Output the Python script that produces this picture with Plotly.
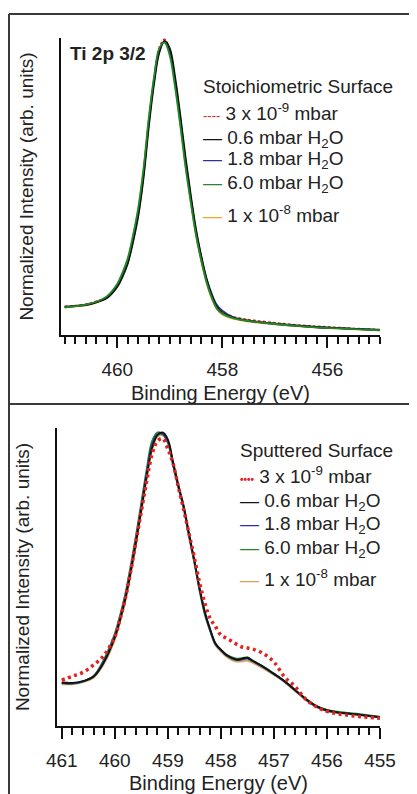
import plotly.graph_objects as go

# ---- data ----
# top panel: stoichiometric surface
energy_stoich = [461.0, 460.8, 460.6, 460.4, 460.2, 460.0, 459.9, 459.8, 459.7, 459.6,
                 459.5, 459.4, 459.3, 459.2, 459.1, 459.0, 458.9, 458.8, 458.7, 458.6,
                 458.5, 458.4, 458.3, 458.2, 458.1, 458.0, 457.8, 457.6, 457.4, 457.0,
                 456.6, 456.2, 455.8, 455.4, 455.0]
stoich_3e9 = [0.096, 0.099, 0.103, 0.113, 0.128, 0.168, 0.204, 0.250, 0.325, 0.418,
              0.548, 0.720, 0.862, 0.968, 0.995, 0.958, 0.855, 0.722, 0.580, 0.455,
              0.343, 0.255, 0.183, 0.130, 0.094, 0.078, 0.062, 0.054, 0.049, 0.041,
              0.034, 0.029, 0.025, 0.021, 0.018]
stoich_06 = [0.095, 0.098, 0.101, 0.110, 0.124, 0.162, 0.196, 0.240, 0.312, 0.400,
             0.528, 0.700, 0.845, 0.950, 0.990, 0.965, 0.870, 0.740, 0.598, 0.470,
             0.355, 0.265, 0.188, 0.132, 0.093, 0.075, 0.059, 0.051, 0.046, 0.038,
             0.032, 0.027, 0.023, 0.020, 0.017]
stoich_18 = [0.094, 0.097, 0.102, 0.111, 0.126, 0.165, 0.200, 0.245, 0.318, 0.408,
             0.538, 0.712, 0.855, 0.958, 0.988, 0.955, 0.858, 0.728, 0.586, 0.462,
             0.350, 0.262, 0.190, 0.138, 0.100, 0.082, 0.060, 0.050, 0.045, 0.037,
             0.031, 0.026, 0.023, 0.020, 0.017]
stoich_60 = [0.093, 0.097, 0.102, 0.112, 0.130, 0.172, 0.210, 0.258, 0.335, 0.428,
             0.560, 0.730, 0.868, 0.965, 0.985, 0.940, 0.835, 0.705, 0.565, 0.445,
             0.335, 0.250, 0.178, 0.125, 0.088, 0.072, 0.057, 0.050, 0.045, 0.037,
             0.031, 0.026, 0.022, 0.019, 0.016]
stoich_1e8 = [0.092, 0.096, 0.100, 0.109, 0.127, 0.170, 0.208, 0.255, 0.330, 0.422,
              0.552, 0.722, 0.860, 0.960, 0.985, 0.948, 0.845, 0.712, 0.570, 0.448,
              0.336, 0.248, 0.175, 0.122, 0.086, 0.069, 0.055, 0.048, 0.043, 0.036,
              0.030, 0.025, 0.022, 0.019, 0.016]

# bottom panel: sputtered surface
energy_sput = [461.0, 460.8, 460.6, 460.4, 460.2, 460.0, 459.9, 459.8, 459.7, 459.6,
               459.5, 459.4, 459.3, 459.2, 459.1, 459.0, 458.9, 458.8, 458.7, 458.6,
               458.5, 458.4, 458.3, 458.2, 458.1, 458.0, 457.9, 457.8, 457.7, 457.6,
               457.5, 457.4, 457.2, 457.0, 456.8, 456.6, 456.4, 456.2, 456.0, 455.8,
               455.6, 455.4, 455.2, 455.0]
sput_3e9 = [0.154, 0.167, 0.180, 0.205, 0.238, 0.300, 0.360, 0.430, 0.520, 0.620,
            0.720, 0.820, 0.910, 0.955, 0.965, 0.930, 0.880, 0.800, 0.725, 0.645,
            0.565, 0.480, 0.410, 0.360, 0.333, 0.305, 0.295, 0.285, 0.274, 0.265,
            0.262, 0.258, 0.243, 0.215, 0.165, 0.132, 0.090, 0.065, 0.049, 0.041,
            0.036, 0.032, 0.029, 0.026]
sput_06 = [0.146, 0.145, 0.151, 0.165, 0.215, 0.296, 0.356, 0.427, 0.517, 0.617,
           0.726, 0.836, 0.930, 0.975, 0.985, 0.962, 0.885, 0.808, 0.738, 0.645,
           0.556, 0.462, 0.382, 0.324, 0.277, 0.256, 0.239, 0.229, 0.223, 0.226,
           0.229, 0.219, 0.199, 0.175, 0.150, 0.121, 0.091, 0.067, 0.053, 0.046,
           0.042, 0.038, 0.034, 0.030]
sput_18 = [0.144, 0.143, 0.150, 0.167, 0.220, 0.303, 0.364, 0.436, 0.526, 0.628,
           0.738, 0.848, 0.942, 0.978, 0.980, 0.956, 0.878, 0.803, 0.733, 0.640,
           0.552, 0.458, 0.378, 0.321, 0.274, 0.254, 0.237, 0.227, 0.221, 0.223,
           0.226, 0.217, 0.197, 0.174, 0.149, 0.119, 0.089, 0.065, 0.051, 0.045,
           0.041, 0.038, 0.033, 0.029]
sput_60 = [0.145, 0.142, 0.149, 0.168, 0.225, 0.310, 0.372, 0.445, 0.538, 0.640,
           0.750, 0.860, 0.955, 0.985, 0.980, 0.950, 0.872, 0.798, 0.728, 0.635,
           0.548, 0.452, 0.372, 0.318, 0.274, 0.256, 0.240, 0.231, 0.226, 0.228,
           0.230, 0.220, 0.200, 0.176, 0.151, 0.121, 0.092, 0.068, 0.054, 0.048,
           0.044, 0.041, 0.036, 0.031]
sput_1e8 = [0.140, 0.140, 0.147, 0.162, 0.210, 0.290, 0.350, 0.420, 0.508, 0.608,
            0.718, 0.828, 0.925, 0.970, 0.975, 0.952, 0.878, 0.802, 0.732, 0.638,
            0.550, 0.455, 0.376, 0.318, 0.270, 0.250, 0.233, 0.222, 0.216, 0.217,
            0.219, 0.212, 0.193, 0.171, 0.147, 0.117, 0.087, 0.063, 0.050, 0.044,
            0.040, 0.036, 0.032, 0.028]

labels = ["3 x 10<sup>-9</sup> mbar", "0.6 mbar H<sub>2</sub>O", "1.8 mbar H<sub>2</sub>O",
          "6.0 mbar H<sub>2</sub>O", "1 x 10<sup>-8</sup> mbar"]

# the page body has an 8px margin, so the figure is a bit smaller than the window
OFF = 8
W, H = 417 - OFF, 794 - OFF
FONT = "Liberation Sans, Arial, sans-serif"
FS = 19
TXT = "#222222"
RED, BLACK, BLUE, GREEN = "#e3221f", "#111111", "#2e3192", "#1f8a2c"
ORANGE_TOP, ORANGE_BOT = "#f2a62a", "#d2a45a"


def px_x(x):
    return (x - OFF) / W


def px_y(y):
    return 1 - (y - OFF) / H


fig = go.Figure()

top = [(stoich_1e8, ORANGE_TOP, "solid", 1.8), (stoich_3e9, RED, "3px,2px", 1.8),
       (stoich_18, BLUE, "solid", 1.8), (stoich_06, BLACK, "solid", 1.8),
       (stoich_60, GREEN, "solid", 1.8)]
for ys, col, dash, w in top:
    fig.add_trace(go.Scatter(x=energy_stoich, y=ys, mode="lines", xaxis="x", yaxis="y",
                             line=dict(color=col, width=w, dash=dash, shape="spline"),
                             showlegend=False))

bot = [(sput_1e8, ORANGE_BOT, "solid", 1.8), (sput_60, GREEN, "solid", 1.8),
       (sput_18, BLUE, "solid", 1.8), (sput_06, BLACK, "solid", 1.8),
       (sput_3e9, RED, "3px,3.5px", 3.5)]
for ys, col, dash, w in bot:
    fig.add_trace(go.Scatter(x=energy_sput, y=ys, mode="lines", xaxis="x2", yaxis="y2",
                             line=dict(color=col, width=w, dash=dash, shape="spline"),
                             showlegend=False))


def xax(domain, rng, tick0, dtick, anchor, standoff):
    return dict(domain=domain, range=rng, anchor=anchor, showline=True, linecolor="#111",
                linewidth=1.5, ticks="outside", ticklen=11, tickwidth=1.5, tickcolor="#111",
                tick0=tick0, dtick=dtick, showgrid=False, zeroline=False,
                ticklabelstandoff=5,
                tickfont=dict(family=FONT, size=FS, color=TXT),
                minor=dict(ticks="outside", ticklen=7, tickwidth=1.5, tickcolor="#111",
                           tick0=455, dtick=0.2, showgrid=False),
                title=dict(text="Binding Energy (eV)", standoff=standoff,
                           font=dict(family=FONT, size=20, color=TXT)),
                automargin=False)


def yax(domain, anchor):
    return dict(domain=domain, range=[0, 1.0], anchor=anchor, showline=True, linecolor="#111",
                linewidth=1.5, ticks="", showticklabels=False, showgrid=False, zeroline=False,
                title=dict(text="Normalized Intensity (arb. units)", standoff=21,
                           font=dict(family=FONT, size=FS, color=TXT)),
                automargin=False)


annotations = [dict(x=px_x(68), y=px_y(53), xref="paper", yref="paper", xanchor="left",
                    yanchor="middle", showarrow=False, text="<b>Ti 2p 3/2</b>",
                    font=dict(family=FONT, size=FS, color=TXT))]


def legend_block(x0, title, rows_y, title_y, samples):
    annotations.append(dict(x=px_x(x0), y=px_y(title_y), xref="paper", yref="paper",
                            xanchor="left", yanchor="middle", showarrow=False, text=title,
                            font=dict(family=FONT, size=FS, color=TXT)))
    for lab, yy, smp in zip(labels, rows_y, samples):
        annotations.append(dict(x=px_x(x0), y=px_y(yy), xref="paper", yref="paper",
                                xanchor="left", yanchor="middle", showarrow=False,
                                text=smp + " " + lab,
                                font=dict(family=FONT, size=FS, color=TXT)))


dash_red = "<span style='color:%s;font-size:13px'>----</span>" % RED
dot_red = "<span style='color:%s;font-size:10px'><b>••••</b></span>" % RED
legend_block(201, "Stoichiometric Surface", [112, 139, 160, 184, 214], 86,
             [dash_red, "<span style='color:%s'>—</span>" % BLACK,
              "<span style='color:%s'>—</span>" % BLUE,
              "<span style='color:%s'>—</span>" % GREEN,
              "<span style='color:%s'>—</span>" % ORANGE_TOP])
legend_block(238, "Sputtered Surface", [475, 502, 525, 549, 578], 450,
             [dot_red, "<span style='color:%s'>—</span>" % BLACK,
              "<span style='color:%s'>—</span>" % BLUE,
              "<span style='color:%s'>—</span>" % GREEN,
              "<span style='color:%s'>—</span>" % ORANGE_BOT])

frame = dict(color="#3a3a3a", width=2)
shapes = [
    dict(type="line", xref="paper", yref="paper", x0=px_x(9), x1=1, y0=px_y(14), y1=px_y(14), line=frame),
    dict(type="line", xref="paper", yref="paper", x0=px_x(9), x1=px_x(9), y0=px_y(14), y1=0, line=frame),
    dict(type="line", xref="paper", yref="paper", x0=px_x(9), x1=1, y0=px_y(404), y1=px_y(404), line=frame),
]

fig.update_layout(
    width=W, height=H, margin=dict(l=0, r=0, t=0, b=0),
    paper_bgcolor="white", plot_bgcolor="white", showlegend=False,
    xaxis=xax([px_x(61), px_x(380)], [461.07, 455.0], 456, 2, "y", 7),
    yaxis=yax([px_y(335), px_y(38)], "x"),
    xaxis2=xax([px_x(57), px_x(380)], [461.09, 455.0], 455, 1, "y2", 9),
    yaxis2=yax([px_y(726), px_y(428)], "x2"),
    annotations=annotations, shapes=shapes,
)

fig.write_html("out.html")
